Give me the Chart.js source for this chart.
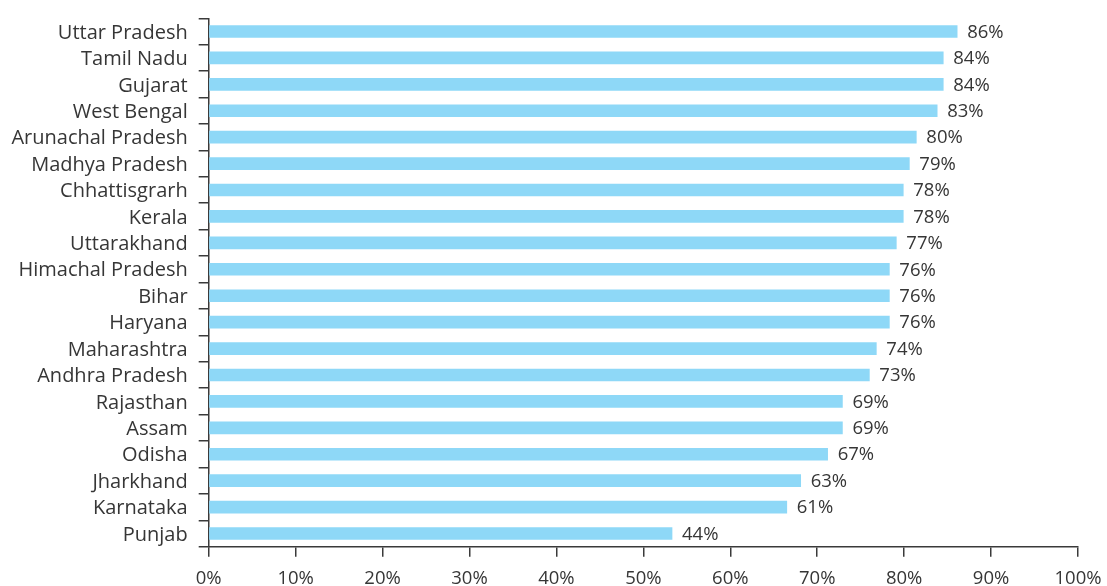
<!DOCTYPE html>
<html><head><meta charset="utf-8">
<script src="https://cdn.jsdelivr.net/npm/chart.js@4.4.1/dist/chart.umd.min.js"></script>
<style>html,body{margin:0;padding:0;background:#fff;overflow:hidden}</style>
</head><body>
<canvas id="c" width="1107" height="586"></canvas>
<script>
const categories = ['Uttar Pradesh','Tamil Nadu','Gujarat','West Bengal','Arunachal Pradesh','Madhya Pradesh','Chhattisgrarh','Kerala','Uttarakhand','Himachal Pradesh','Bihar','Haryana','Maharashtra','Andhra Pradesh','Rajasthan','Assam','Odisha','Jharkhand','Karnataka','Punjab'];
// bar lengths as drawn in the picture (percent of axis)
const barValues = [86.1,84.5,84.5,83.8,81.4,80.6,79.9,79.9,79.1,78.3,78.3,78.3,76.8,76.0,72.9,72.9,71.2,68.1,66.5,53.3];
// printed value labels
const valueLabels = ['86%','84%','84%','83%','80%','79%','78%','78%','77%','76%','76%','76%','74%','73%','69%','69%','67%','63%','61%','44%'];
const xTickValues = [0,10,20,30,40,50,60,70,80,90,100];

const FONT = '"Open Sans", "Liberation Sans", Arial, sans-serif';
const TEXT = '#363636';
const AXIS = '#3a3a3a';
const BAR = '#8ed8f7';

const valueLabelPlugin = {
  id: 'valueLabels',
  afterDatasetsDraw(chart) {
    const ctx = chart.ctx;
    const meta = chart.getDatasetMeta(0);
    ctx.save();
    ctx.font = '18.5px ' + FONT;
    ctx.fillStyle = TEXT;
    ctx.textAlign = 'left';
    ctx.textBaseline = 'middle';
    meta.data.forEach((bar, i) => {
      ctx.fillText(valueLabels[i], bar.x + 10, bar.y + 1);
    });
    ctx.restore();
  }
};

function draw() {
  new Chart(document.getElementById('c'), {
    type: 'bar',
    data: {
      labels: categories,
      datasets: [{ data: barValues, backgroundColor: BAR, borderWidth: 0, barThickness: 12 }]
    },
    options: {
      indexAxis: 'y',
      responsive: false,
      animation: false,
      devicePixelRatio: 1,
      layout: { padding: { top: 18.3, right: 29, bottom: 0, left: 0 } },
      plugins: { legend: { display: false }, tooltip: { enabled: false } },
      scales: {
        x: {
          min: 0, max: 100,
          afterBuildTicks(scale) { scale.ticks = xTickValues.map(v => ({ value: v })); },
          afterFit(scale) { scale.height = 39.3; scale.paddingLeft = 0; scale.paddingRight = 0; },
          border: { display: true, color: AXIS, width: 1.5 },
          grid: { drawOnChartArea: false, drawTicks: true, tickLength: 10, color: AXIS, lineWidth: 1.5 },
          ticks: { callback: v => v + '%', font: { family: FONT, size: 18.5 }, color: TEXT, padding: 11, maxRotation: 0 }
        },
        y: {
          afterFit(scale) { scale.width = 208.7; scale.paddingTop = 0; scale.paddingBottom = 0; },
          border: { display: true, color: AXIS, width: 1.5 },
          grid: { drawOnChartArea: false, drawTicks: true, tickLength: 10, color: AXIS, lineWidth: 1.5, offset: true },
          ticks: { font: { family: FONT, size: 20 }, color: TEXT, padding: 11, autoSkip: false, labelOffset: 1.5 }
        }
      }
    },
    plugins: [valueLabelPlugin]
  });
}
if (document.fonts && document.fonts.load) {
  Promise.all([document.fonts.load('18.5px "Open Sans"'), document.fonts.load('20px "Open Sans"')]).then(draw, draw);
} else { draw(); }
</script>
</body></html>
